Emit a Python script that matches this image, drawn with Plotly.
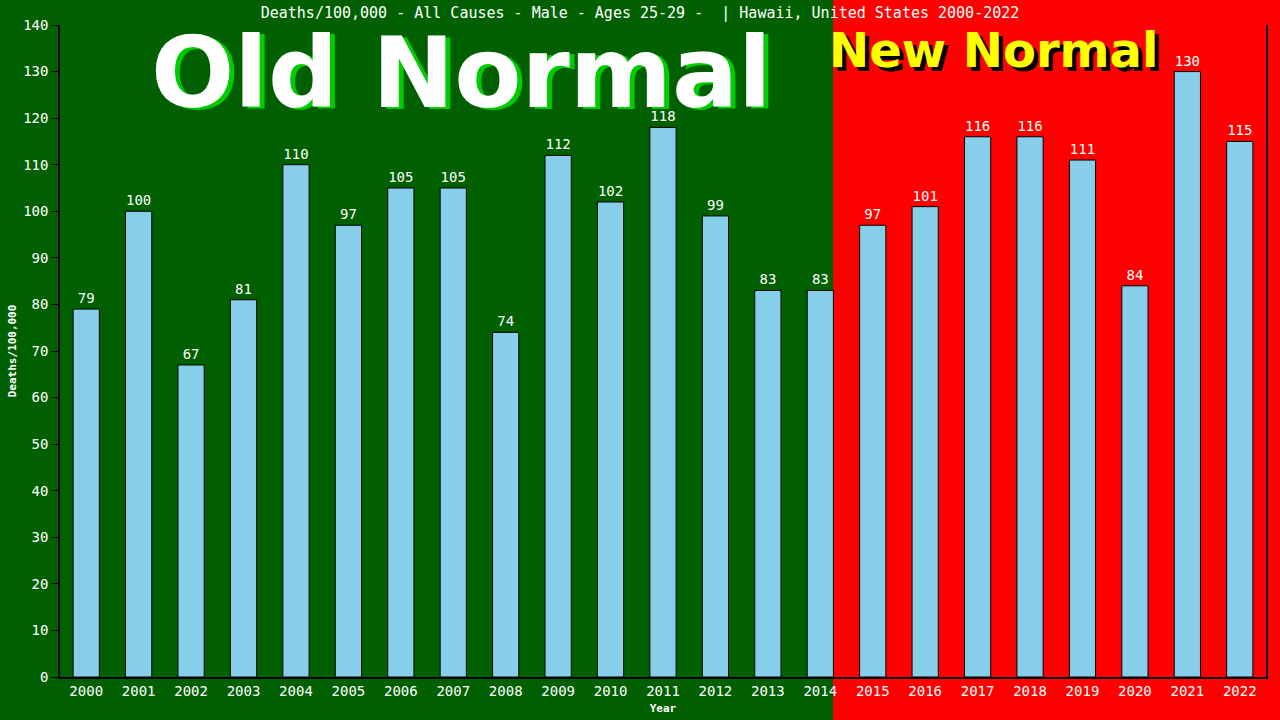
import plotly.graph_objects as go

# data
years = [str(y) for y in range(2000, 2023)]
deaths = [79, 100, 67, 81, 110, 97, 105, 105, 74, 112, 102, 118,
          99, 83, 83, 97, 101, 116, 116, 111, 84, 130, 115]
y_ticks = list(range(0, 141, 10))

mono = "DejaVu Sans Mono"

fig = go.Figure()
fig.add_trace(go.Bar(
    x=years, y=deaths,
    width=0.5,
    marker=dict(color="#87ceeb", line=dict(color="#000000", width=1)),
    text=deaths, textposition="outside",
    textfont=dict(family=mono, size=14, color="white"),
    cliponaxis=False,
))

# background halves: old normal (green) / new normal (red)
fig.add_shape(type="rect", xref="paper", yref="paper", x0=-0.1, x1=0.641,
              y0=-0.2, y1=1.1, fillcolor="#006000", line_width=0, layer="below")
fig.add_shape(type="rect", xref="paper", yref="paper", x0=0.641, x1=1.05,
              y0=-0.2, y1=1.1, fillcolor="#ff0000", line_width=0, layer="below")

# big labels with drop shadows
fig.add_annotation(text="<b>Old Normal</b>", xref="paper", yref="paper",
                   x=0.337, y=0.924, showarrow=False,
                   xanchor="center", yanchor="middle",
                   font=dict(family="DejaVu Sans", size=98, color="#00cc00"))
fig.add_annotation(text="<b>Old Normal</b>", xref="paper", yref="paper",
                   x=0.333, y=0.926, showarrow=False,
                   xanchor="center", yanchor="middle",
                   font=dict(family="DejaVu Sans", size=98, color="white"))
fig.add_annotation(text="<b>New Normal</b>", xref="paper", yref="paper",
                   x=0.777, y=0.956, showarrow=False,
                   xanchor="center", yanchor="middle",
                   font=dict(family="DejaVu Sans", size=48, color="black"))
fig.add_annotation(text="<b>New Normal</b>", xref="paper", yref="paper",
                   x=0.774, y=0.961, showarrow=False,
                   xanchor="center", yanchor="middle",
                   font=dict(family="DejaVu Sans", size=48, color="#ffff00"))

fig.update_layout(
    width=1280, height=720,
    margin=dict(l=60, r=14, t=25, b=43, autoexpand=False),
    paper_bgcolor="#006000", plot_bgcolor="rgba(0,0,0,0)",
    showlegend=False,
    title=dict(text="Deaths/100,000 - All Causes - Male - Ages 25-29 -  | Hawaii, United States 2000-2022",
               x=0.5, xanchor="center", y=0.989, yanchor="top",
               font=dict(family=mono, size=15, color="white")),
    font=dict(family=mono, color="white"),
)
fig.update_xaxes(
    showline=True, linecolor="black", linewidth=1.5,
    ticks="", tickfont=dict(family=mono, size=14, color="white"),
    title=dict(text="<b>Year</b>", font=dict(family=mono, size=11, color="white"), standoff=7),
    showgrid=False, automargin=False,
)
fig.update_yaxes(
    range=[0, 140], tickvals=y_ticks,
    showline=True, linecolor="black", linewidth=1.5, mirror=True,
    ticks="outside", ticklen=7, tickcolor="black",
    tickfont=dict(family=mono, size=14, color="white"),
    title=dict(text="<b>Deaths/100,000</b>", font=dict(family=mono, size=11, color="white"), standoff=4),
    showgrid=False, zeroline=False, automargin=False,
)

fig.write_html("out.html", config={"displayModeBar": False},
               post_script="document.body.style.margin='0';")
